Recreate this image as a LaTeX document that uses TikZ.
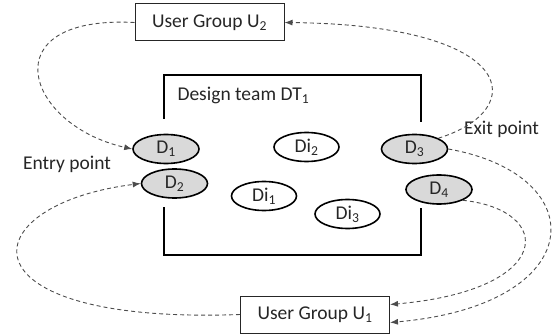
\documentclass[tikz,border=0pt]{standalone}
\usepackage{fontspec}
\setmainfont{Carlito}
\usetikzlibrary{shapes.geometric,arrows.meta}
\begin{document}
\begin{tikzpicture}[x=1pt,y=-1pt,
  every node/.style={font=\fontsize{19.5}{23}\selectfont, text=black!85},
  usrbox/.style={draw=black!85, line width=1pt, minimum width=149pt, minimum height=37pt, inner sep=0pt},
  dnode/.style={ellipse, draw=black, line width=1.6pt, fill=black!15, minimum width=66pt, minimum height=29pt, inner sep=0pt},
  dinode/.style={ellipse, draw=black, line width=1.6pt, fill=white, minimum width=65pt, minimum height=29pt, inner sep=0pt},
  flow/.style={draw=black!70, line width=0.9pt, dash pattern=on 4pt off 3pt, -{Latex[length=8pt,width=6pt]}},
  teamline/.style={draw=black, line width=2pt}]
\useasboundingbox (0,0) rectangle (557,334);
% design team frame
\coordinate (tl1) at (164,119);
\coordinate (tl) at (164,75);
\coordinate (tr) at (421,75);
\coordinate (tr1) at (421,122);
\coordinate (bl1) at (164,207);
\coordinate (bl) at (164,255);
\coordinate (br) at (421,255);
\coordinate (br1) at (421,208);
\draw[teamline] (tl1) -- (tl) -- (tr) -- (tr1);
\draw[teamline] (bl1) -- (bl) -- (br) -- (br1);
\node[anchor=west] (dt) at (174,95) {Design team DT\textsubscript{1}};
% user groups
\node[usrbox] (u2) at (209.5,22.5) {User Group U\textsubscript{2}};
\node[usrbox] (u1) at (315,314.5) {User Group U\textsubscript{1}};
% designers
\node[dnode] (d1) at (166,149) {D\textsubscript{1}};
\node[dnode] (d2) at (174.5,183.5) {D\textsubscript{2}};
\node[dnode] (d3) at (414.5,149) {D\textsubscript{3}};
\node[dnode] (d4) at (439,189.5) {D\textsubscript{4}};
\node[dinode] (di1) at (264,196) {Di\textsubscript{1}};
\node[dinode] (di2) at (306.5,147) {Di\textsubscript{2}};
\node[dinode] (di3) at (347.5,214) {Di\textsubscript{3}};
% labels
\node (entry) at (67,164) {Entry point};
\node (exit) at (501.5,129) {Exit point};
% flows
\draw[flow] (u2.west) .. controls (-10,15) and (25,125) .. (d1.west);
\draw[flow] (d3.north east) .. controls (530,110) and (520,25) .. (u2.east);
\draw[flow] (u1.west) .. controls (-45,325) and (-30,205) .. (d2.west);
\draw[flow] (d3.east) .. controls (595,175) and (590,305) .. ([yshift=-8pt]u1.east);
\draw[flow] (d4.south east) .. controls (555,210) and (555,290) .. ([yshift=10pt]u1.east);
\end{tikzpicture}
\end{document}
